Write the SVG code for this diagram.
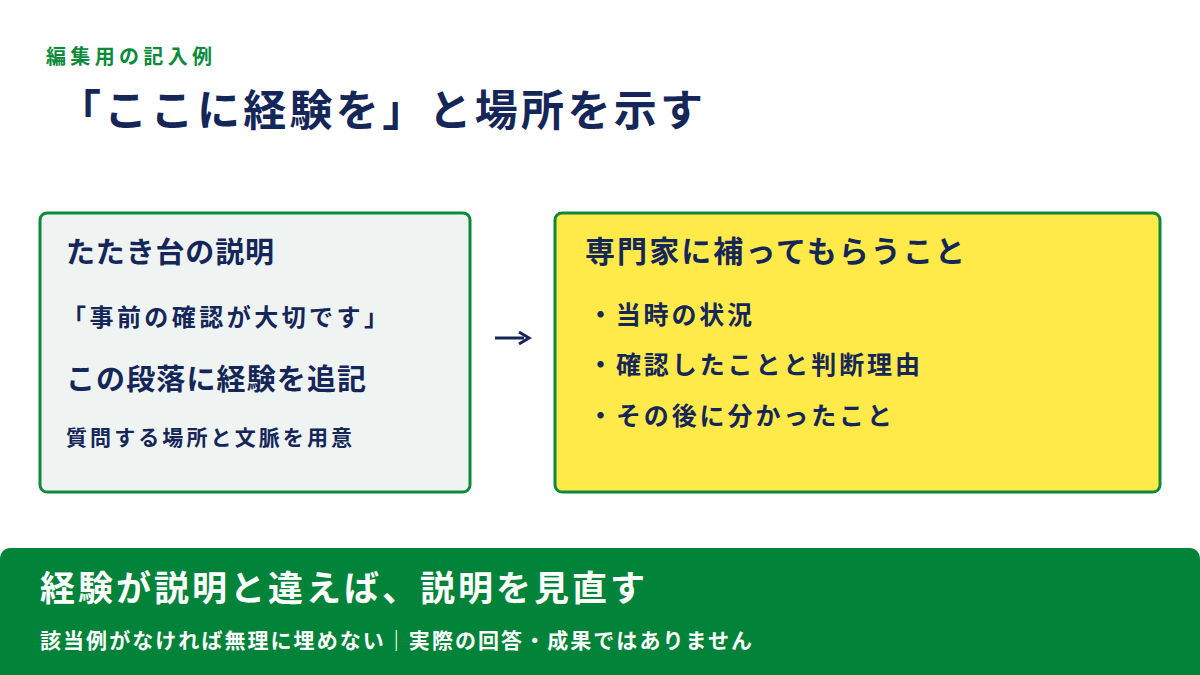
<svg xmlns="http://www.w3.org/2000/svg" width="1200" height="675" viewBox="0 0 1200 675">
<style>
text{font-family:"Noto Sans CJK JP","Noto Sans",sans-serif;font-weight:700;fill:#152659}
.g{fill:#0a8a3a}.w{fill:#fff}
</style>
<rect width="1200" height="675" fill="#fff"/>
<text x="46" y="64" font-size="20" class="g" textLength="166" lengthAdjust="spacing">編集用の記入例</text>
<text x="58" y="126" font-size="43" textLength="645" lengthAdjust="spacing">「ここに経験を」と場所を示す</text>
<g id="left">
<rect x="40" y="213" width="430" height="279" rx="7" fill="#eff4f3" stroke="#0a8a3a" stroke-width="3"/>
<text x="66" y="263" font-size="29" textLength="208" lengthAdjust="spacing">たたき台の説明</text>
<text x="62" y="326" font-size="24" textLength="326" lengthAdjust="spacing">「事前の確認が大切です」</text>
<text x="66" y="390" font-size="29" textLength="300" lengthAdjust="spacing">この段落に経験を追記</text>
<text x="66" y="445" font-size="21" textLength="286" lengthAdjust="spacing">質問する場所と文脈を用意</text>
</g>
<g id="connectors">
<line x1="495" y1="338" x2="524" y2="338" stroke="#152659" stroke-width="3"/>
<path d="M519 332 L529 338 L519 344" fill="none" stroke="#152659" stroke-width="3"/>
</g>
<g id="right">
<rect x="555" y="213" width="605" height="279" rx="7" fill="#ffea4a" stroke="#0a8a3a" stroke-width="3"/>
<text x="585" y="262" font-size="30" textLength="380" lengthAdjust="spacing">専門家に補ってもらうこと</text>
<text x="588" y="324" font-size="25" textLength="164" lengthAdjust="spacing">・当時の状況</text>
<text x="588" y="374" font-size="25" textLength="332" lengthAdjust="spacing">・確認したことと判断理由</text>
<text x="588" y="425" font-size="25" textLength="304" lengthAdjust="spacing">・その後に分かったこと</text>
</g>
<g id="bottom">
<rect x="0" y="548" width="1200" height="140" rx="10" fill="#02833a"/>
<text x="40" y="601" font-size="35" class="w" textLength="605" lengthAdjust="spacing">経験が説明と違えば、説明を見直す</text>
<text x="40" y="648" font-size="21" class="w" textLength="712" lengthAdjust="spacing">該当例がなければ無理に埋めない｜実際の回答・成果ではありません</text>
</g>
</svg>
